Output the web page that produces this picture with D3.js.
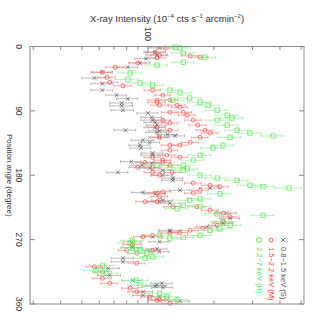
<!DOCTYPE html>
<html><head><meta charset="utf-8">
<script src="https://cdn.jsdelivr.net/npm/d3@7"></script>
<style>body{margin:0;background:#fff}</style>
</head><body>
<svg id="chart" width="319" height="319"></svg>
<script>
// [position angle (deg), intensity, 1-sigma error]
const softS = [[2,113,12],[8,108,12],[12,110,12],[17,98,11],[23,92,10],[29,81,9],[36,62,7],[44,57,7],[52,62,7],[61,62,7],[68,72,8],[73,81,9],[79,76,9],[83,76,9],[89,77,9],[93,100,11],[99,104,11],[103,105,12],[106,108,12],[110,110,12],[113,108,12],[117,79,9],[118,113,12],[120,110,12],[123,123,13],[125,133,14],[127,113,12],[131,95,11],[134,102,11],[138,92,10],[142,93,10],[149,105,12],[152,105,12],[161,84,9],[163,104,11],[166,94,10],[170,102,11],[173,117,13],[176,73,8],[180,117,13],[184,130,14],[187,130,14],[198,192,20],[201,140,15],[204,95,11],[206,108,12],[215,117,13],[217,113,12],[219,126,14],[233,229,24],[240,237,25],[247,220,23],[252,186,20],[257,126,14],[259,126,14],[266,105,12],[273,113,12],[281,85,9],[283,110,12],[285,102,11],[287,113,12],[296,77,9],[301,77,9],[310,66,8],[320,67,8],[327,85,9],[331,116,13],[334,110,12],[335,108,12],[337,117,13],[343,95,10],[348,95,10],[350,113,12],[354,122,13],[356,140,15]];

const mediumM = [[2,120,11],[8,108,10],[12,113,10],[13,156,14],[15,173,15],[16,110,10],[23,90,8],[29,71,7],[36,62,6],[43,65,6],[50,67,6],[55,77,7],[61,105,9],[68,117,10],[75,110,10],[75,126,11],[78,110,10],[82,113,10],[82,136,12],[85,140,12],[92,145,13],[92,126,11],[96,151,13],[103,161,14],[103,117,10],[107,126,11],[110,169,15],[113,110,10],[117,182,16],[117,126,11],[121,192,17],[127,173,15],[127,113,10],[134,156,14],[138,140,12],[138,126,11],[145,126,11],[152,122,11],[155,105,9],[155,140,12],[159,117,10],[162,97,9],[162,117,10],[166,126,11],[169,105,9],[169,90,8],[176,129,11],[176,105,9],[180,113,10],[191,161,14],[194,192,17],[196,213,19],[201,173,15],[203,117,10],[205,161,14],[205,110,10],[210,113,10],[217,110,10],[217,97,9],[224,167,15],[224,130,12],[229,192,17],[233,220,19],[238,237,21],[245,220,19],[250,207,18],[254,178,16],[257,156,14],[260,140,12],[261,126,11],[264,105,9],[266,95,9],[273,85,8],[277,85,8],[285,80,7],[285,105,9],[289,89,8],[303,89,8],[308,57,5],[315,62,6],[324,62,6],[331,67,6],[338,83,7],[343,89,8],[350,102,9],[354,113,10],[355,110,10],[359,126,11]];

const hardH = [[1,133,16],[2,140,17],[9,145,17],[15,182,22],[22,145,17],[26,110,13],[37,83,10],[46,81,10],[51,92,11],[54,105,13],[61,126,15],[65,140,17],[72,155,19],[75,130,16],[78,173,21],[82,188,23],[89,207,25],[96,230,28],[100,242,29],[103,207,25],[110,230,28],[117,255,31],[121,292,35],[125,372,45],[127,237,28],[138,220,26],[142,198,24],[152,173,21],[159,161,19],[166,145,17],[166,110,13],[169,126,15],[171,151,18],[173,145,17],[180,173,21],[184,207,25],[187,255,31],[194,292,35],[196,335,40],[198,440,60],[206,213,26],[213,173,21],[215,155,19],[222,145,17],[224,173,21],[227,136,16],[234,207,25],[236,335,40],[245,220,26],[250,237,28],[255,213,26],[257,192,23],[264,173,21],[264,113,14],[267,145,17],[268,126,15],[271,85,10],[275,83,10],[282,85,10],[285,92,11],[289,99,12],[294,105,13],[296,97,12],[306,62,8],[313,58,7],[317,65,8],[327,89,11],[334,92,11],[345,113,14],[350,122,15],[354,136,16]];

const angleTicks = [0, 90, 180, 270, 360];
const intensityMinor = [30, 40, 50, 60, 70, 80, 90, 200, 300, 400, 500];
const intensityMajor = [100];
const bandNames = ["0.8\u22121.5 keV (S)", "1.5\u22122.2 keV (M)", "2.2\u22127 keV (H)"];

const svg = d3.select("#chart");
const m = {l: 30, r: 304, t: 46.5, b: 304};
const x = d3.scaleLog().domain([29, 515]).range([m.l, m.r]);
const y = d3.scaleLinear().domain([0, 360]).range([m.t, m.b]);
const axisCol = "#8a8a8a";

const colS = "#505050", colM = "#ff4040", colH = "#44ee44";

function markerPath(shape, c) {
    if (shape === "x") return `M${c-1.9},-1.9L${c+1.9},1.9M${c-1.9},1.9L${c+1.9},-1.9`;
    if (shape === "o") return `M${c-2},0a2,2 0 1,0 4,0a2,2 0 1,0 -4,0`;
    return `M${c-2.2},-2.2h4.4v4.4h-4.4z`;
}

function drawSeries(data, col, barCol, shape) {
    const g = svg.append("g");
    const pt = g.selectAll("g").data(data).join("g")
        .attr("transform", d => `translate(0,${y(d[0])})`);
    pt.append("path")
        .attr("d", d => `M${x(d[1] - d[2])},0H${x(d[1] + d[2])}M${x(d[1] - d[2])},-1.4V1.4M${x(d[1] + d[2])},-1.4V1.4`)
        .attr("fill", "none").attr("stroke", barCol).attr("stroke-width", 0.7);
    pt.append("path").attr("d", d => markerPath(shape, x(d[1])))
        .attr("fill", "none").attr("stroke", col).attr("stroke-width", 0.7);
}

drawSeries(softS, colS, "#a0a0a0", "x");
drawSeries(mediumM, colM, "#ff8585", "o");
drawSeries(hardH, colH, "#96f296", "s");

// frame
svg.append("rect").attr("x", m.l).attr("y", m.t)
    .attr("width", m.r - m.l).attr("height", m.b - m.t)
    .attr("fill", "none").attr("stroke", axisCol).attr("stroke-width", 1);

// intensity ticks (top and bottom, inward)
[[m.t, 1], [m.b, -1]].forEach(([yy, dir]) => {
    svg.append("g").selectAll("line").data(intensityMinor).join("line")
        .attr("x1", d => x(d)).attr("x2", d => x(d))
        .attr("y1", yy).attr("y2", yy + dir * 3.5)
        .attr("stroke", axisCol);
    svg.append("g").selectAll("line").data(intensityMajor).join("line")
        .attr("x1", d => x(d)).attr("x2", d => x(d))
        .attr("y1", yy).attr("y2", yy + dir * 7)
        .attr("stroke", axisCol);
});
// angle ticks (left and right, inward)
[[m.l, 1], [m.r, -1]].forEach(([xx, dir]) => {
    svg.append("g").selectAll("line").data(angleTicks).join("line")
        .attr("x1", xx).attr("x2", xx + dir * 5)
        .attr("y1", d => y(d)).attr("y2", d => y(d))
        .attr("stroke", axisCol);
});

const font = "Liberation Sans, Arial, sans-serif";
const textCol = "#333";

// rotated tick labels
svg.append("g").selectAll("text").data(angleTicks).join("text")
    .attr("transform", d => `translate(19,${y(d)}) rotate(90)`)
    .attr("text-anchor", "middle").attr("dominant-baseline", "central")
    .attr("font-family", font).attr("font-size", 8.5).attr("fill", textCol)
    .text(d => d);
svg.append("g").selectAll("text").data(intensityMajor).join("text")
    .attr("transform", d => `translate(${x(d)},34) rotate(90)`)
    .attr("text-anchor", "middle").attr("dominant-baseline", "central")
    .attr("font-family", font).attr("font-size", 8.5).attr("fill", textCol)
    .text(d => d);

// axis titles
svg.append("text")
    .attr("transform", `translate(9,${(m.t + m.b) / 2}) rotate(90)`)
    .attr("text-anchor", "middle").attr("dominant-baseline", "central")
    .attr("font-family", font).attr("font-size", 8).attr("fill", textCol)
    .text("Position angle (degree)");

const title = svg.append("text")
    .attr("x", (m.l + m.r) / 2).attr("y", 22)
    .attr("text-anchor", "middle")
    .attr("font-family", font).attr("font-size", 9.5).attr("fill", textCol);
title.append("tspan").text("X-ray Intensity (10");
title.append("tspan").attr("dy", -4).attr("font-size", 6).text("\u22124");
title.append("tspan").attr("dy", 4).text(" cts s");
title.append("tspan").attr("dy", -4).attr("font-size", 6).text("\u22121");
title.append("tspan").attr("dy", 4).text(" arcmin");
title.append("tspan").attr("dy", -4).attr("font-size", 6).text("\u22122");
title.append("tspan").attr("dy", 4).text(")");

// legend (rotated)
const legend = [
    {name: bandNames[0], col: colS, shape: "x", lx: 283},
    {name: bandNames[1], col: colM, shape: "o", lx: 271},
    {name: bandNames[2], col: colH, shape: "s", lx: 259}
];
legend.forEach(l => {
    const g = svg.append("g").attr("transform", `translate(${l.lx},240)`);
    g.append("path").attr("d", markerPath(l.shape, 0))
        .attr("fill", "none").attr("stroke", l.col).attr("stroke-width", 0.8);
    g.append("text").attr("transform", "translate(0,7) rotate(90)")
        .attr("dominant-baseline", "central")
        .attr("font-family", font).attr("font-size", 7.5).attr("fill", l.col)
        .text(l.name);
});
</script>
</body></html>
